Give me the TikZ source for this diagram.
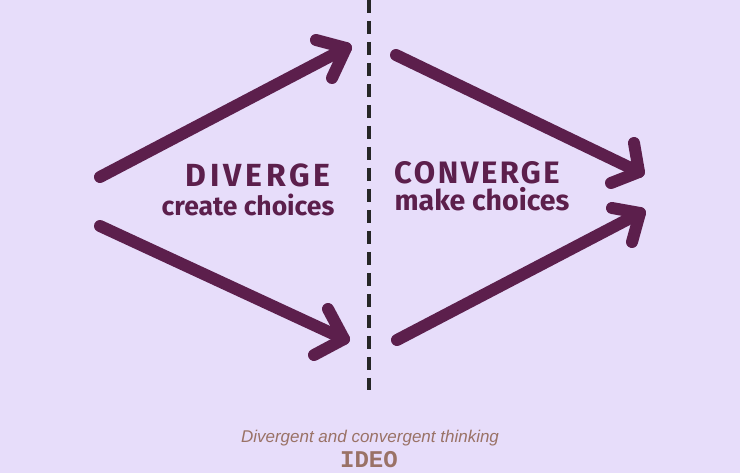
\documentclass[tikz,border=0pt]{standalone}
\usepackage{fontspec}
\newfontfamily\handfont{Fira Sans}
\newfontfamily\capfont{Liberation Sans}
\newfontfamily\logofont{Liberation Mono}
\usetikzlibrary{positioning}
\definecolor{bgcol}{HTML}{E7DDFA}
\definecolor{plum}{HTML}{5C1F4C}
\definecolor{captcol}{HTML}{9A7266}
\tikzset{arr/.style={draw=plum, line width=12pt, line cap=round, line join=round}}
\tikzset{lbl/.style={text=plum, inner sep=0pt, font=\handfont\bfseries}}
\tikzset{captxt/.style={text=captcol, inner sep=0pt}}

\begin{document}
\begin{tikzpicture}[x=1pt, y=-1pt]

        \fill[bgcol] (0,0) rectangle (740,473);
        \useasboundingbox (0,0) rectangle (740,473);

        % divergent side
        \coordinate (d1s) at (100,177);
        \coordinate (d1t) at (346,48);
        \coordinate (d1a) at (316,40);
        \coordinate (d1b) at (332,78);

        \coordinate (d2s) at (100,226);
        \coordinate (d2t) at (344,339);
        \coordinate (d2a) at (328,309);
        \coordinate (d2b) at (314,355);

        % convergent side
        \coordinate (c1s) at (396,55);
        \coordinate (c1t) at (639,172);
        \coordinate (c1a) at (634,143);
        \coordinate (c1b) at (611,183);

        \coordinate (c2s) at (397,340);
        \coordinate (c2t) at (640,213);
        \coordinate (c2a) at (612,208);
        \coordinate (c2b) at (632,242);

        \draw[arr] (d1s) -- (d1t);
        \draw[arr] (d1a) -- (d1t) -- (d1b);
        \draw[arr] (d2s) -- (d2t);
        \draw[arr] (d2a) -- (d2t) -- (d2b);
        \draw[arr] (c1s) -- (c1t);
        \draw[arr] (c1a) -- (c1t) -- (c1b);
        \draw[arr] (c2s) -- (c2t);
        \draw[arr] (c2a) -- (c2t) -- (c2b);

        % middle line
        \coordinate (mtop) at (369,0);
        \coordinate (mbot) at (369,390);
        \draw[black!85, line width=3.5pt, dash pattern=on 13pt off 8pt] (mtop) -- (mbot);

        \node[lbl, font=\handfont\bfseries\fontsize{32}{34}\selectfont\addfontfeatures{LetterSpace=12}] (div) at (258,175) {DIVERGE};
        \node[lbl, font=\handfont\bfseries\fontsize{26.5}{28}\selectfont] (divsub) at (248,205) {create choices};
        \node[lbl, font=\handfont\bfseries\fontsize{31}{34}\selectfont\addfontfeatures{LetterSpace=8}] (con) at (477,173) {CONVERGE};
        \node[lbl, font=\handfont\bfseries\fontsize{28.5}{30}\selectfont] (consub) at (482,199) {make choices};

        \node[captxt, font=\capfont\itshape\fontsize{17}{19}\selectfont] (capt) at (370,438) {Divergent and convergent thinking};
        \node[captxt, font=\logofont\bfseries\fontsize{24}{26}\selectfont, anchor=south] (logo) at (369,468) {IDEO};
    \end{tikzpicture}
\end{document}
